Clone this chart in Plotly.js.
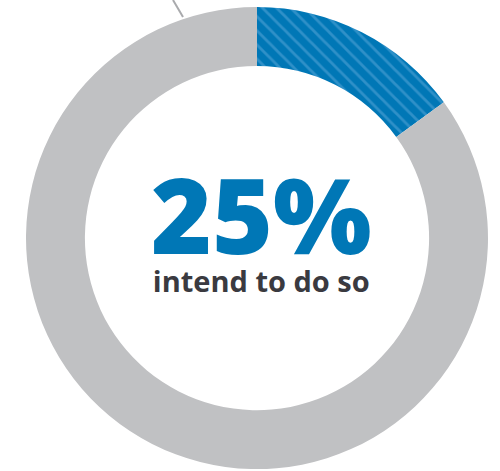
<!DOCTYPE html>
<html>
<head>
<meta charset="utf-8">
<script src="https://cdn.plot.ly/plotly-3.0.1.min.js"></script>
<style>html,body{margin:0;padding:0;background:#fff;}#chart{width:500px;height:471px;}</style>
</head>
<body>
<div id="chart"></div>
<script>
const labels = ["Intend to do so", "Other"];
const values = [15, 85];
const sliceColors = ["#0077b6", "#c0c1c3"];
const headline = "25%";
const subline = "intend to do so";

const data = [{
  type: "pie",
  labels: labels,
  values: values,
  hole: 0.745,
  sort: false,
  direction: "clockwise",
  rotation: 0,
  textinfo: "none",
  hoverinfo: "none",
  showlegend: false,
  domain: {x: [0.052, 0.976], y: [0.004, 0.985]},
  marker: {
    colors: sliceColors,
    line: {width: 0},
    pattern: {
      shape: ["\\", ""],
      fillmode: "overlay",
      fgcolor: ["#5ea9da", "#c0c1c3"],
      size: 10,
      solidity: 0.28
    }
  }
}];

const layout = {
  width: 500, height: 471,
  margin: {l: 0, r: 0, t: 0, b: 0},
  paper_bgcolor: "#ffffff",
  plot_bgcolor: "#ffffff",
  shapes: [{
    type: "line", xref: "paper", yref: "paper",
    x0: 173/500, y0: 1, x1: 183/500, y1: 1 - 17/471,
    line: {color: "#a9aaad", width: 2}
  }],
  annotations: [
    {
      text: '<span style="font-size:104px;color:#0077b6;font-weight:800">' + headline + '</span><br>' + subline,
      xref: "paper", yref: "paper",
      x: 261.5/500, y: (471-221)/471, xanchor: "center", yanchor: "middle",
      align: "center",
      showarrow: false,
      font: {family: "Open Sans", size: 29, color: "#3a3a40", weight: 700}
    }
  ]
};

Plotly.newPlot("chart", data, layout, {displayModeBar: false, staticPlot: true});
</script>
</body>
</html>
